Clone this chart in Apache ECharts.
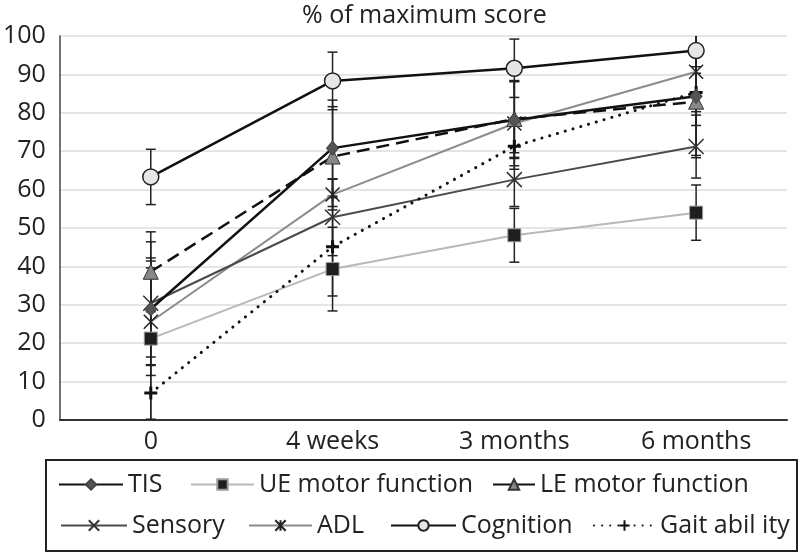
<!DOCTYPE html>
<html>
<head>
<meta charset="utf-8">
<script src="https://cdn.jsdelivr.net/npm/echarts@6/dist/echarts.min.js"></script>
<style>html,body{margin:0;padding:0;background:#fff}#c{width:800px;height:553px}</style>
</head>
<body>
<div id="c"></div>
<script>
const categories = ['0', '4 weeks', '3 months', '6 months'];
const yTicks = [0, 10, 20, 30, 40, 50, 60, 70, 80, 90, 100];

const tis = [28.9, 70.8, 78.1, 84.3];
const tisSd = [12.5, 12.5, 10, 16];
const ue = [21.2, 39.3, 48.1, 54.0];
const ueSd = [21, 10.9, 7.0, 7.2];
const le = [38.6, 68.6, 78.4, 82.9];
const leSd = [10.4, 13, 10, 14];
const sensory = [30.4, 52.8, 62.6, 71.2];
const sensorySd = [16, 10, 7, 8.2];
const adl = [25.6, 58.7, 77.2, 90.7];
const adlSd = [14, 4, 11, 14];
const cognition = [63.3, 88.3, 91.6, 96.2];
const cognitionSd = [7.2, 7.5, 7.6, 4.2];
const gait = [7.0, 45.1, 71.3, 85.3];
const gaitSd = [7.2, 12.8, 6, 5];

const FONT = 'Open Sans';
const FS = 25;

const allSeries = [
  [tis, tisSd], [ue, ueSd], [le, leSd], [sensory, sensorySd],
  [adl, adlSd], [cognition, cognitionSd], [gait, gaitSd]
];
const errData = [];
allSeries.forEach(([m, s]) => {
  m.forEach((v, i) => errData.push([i, v - s[i], v + s[i]]));
});

const chart = echarts.init(document.getElementById('c'), null, {renderer: 'canvas'});

function legendItem(name, left, top, w, solid) {
  const l = {
    data: [name], left: left, top: top, padding: 0,
    itemWidth: w, itemHeight: 13, orient: 'horizontal',
    selectedMode: false,
    textStyle: {fontFamily: FONT, fontSize: FS, color: '#222'}
  };
  if (solid) l.lineStyle = {type: 'solid'};
  return l;
}

const option = {
  animation: false,
  backgroundColor: '#fff',
  title: {
    text: '% of maximum score', left: 302, top: 3, padding: 0,
    textStyle: {fontFamily: FONT, fontSize: FS, fontWeight: 'normal', color: '#222'}
  },
  grid: {left: 59, right: 13, top: 36, bottom: 133, containLabel: false},
  xAxis: {
    type: 'category', data: categories, boundaryGap: true,
    axisTick: {show: false},
    axisLine: {lineStyle: {color: '#333', width: 2}},
    axisLabel: {fontFamily: FONT, fontSize: FS, color: '#222', margin: 9},
    splitLine: {show: false}
  },
  yAxis: {
    type: 'value', min: yTicks[0], max: yTicks[yTicks.length - 1], interval: 10,
    axisLine: {show: true, lineStyle: {color: '#444', width: 1.5}},
    axisTick: {show: false},
    axisLabel: {fontFamily: FONT, fontSize: FS, color: '#222', margin: 14},
    splitLine: {lineStyle: {color: '#dcdcdc', width: 1.5}}
  },
  legend: [
    legendItem('TIS', 58, 472, 64),
    legendItem('UE motor function', 190, 472, 63),
    legendItem('LE motor function', 492, 472, 42, true),
    legendItem('Sensory', 60, 513, 66),
    legendItem('ADL', 248, 513, 63),
    legendItem('Cognition', 390, 513, 65),
    legendItem('Gait abil ity', 593, 513, 61)
  ],
  graphic: [{
    type: 'rect', shape: {x: 46, y: 460, width: 751, height: 91},
    style: {fill: 'none', stroke: '#222', lineWidth: 2}, z: 100
  }],
  series: [
    {
      type: 'custom', name: 'err', data: errData, z: 1, silent: true,
      encode: {x: 0, y: [1, 2]},
      renderItem: function (params, api) {
        const x = api.value(0), lo = api.value(1), hi = api.value(2);
        const t = api.coord([x, Math.min(hi, 100)]);
        const b = api.coord([x, Math.max(lo, 0)]);
        const st = {stroke: '#222', lineWidth: 1.5};
        const ch = [{type: 'line', shape: {x1: t[0], y1: t[1], x2: b[0], y2: b[1]}, style: st}];
        if (hi <= 100) ch.push({type: 'line', shape: {x1: t[0] - 5, y1: t[1], x2: t[0] + 5, y2: t[1]}, style: st});
        if (lo >= 0) ch.push({type: 'line', shape: {x1: b[0] - 5, y1: b[1], x2: b[0] + 5, y2: b[1]}, style: st});
        return {type: 'group', children: ch};
      }
    },
    {
      name: 'UE motor function', type: 'line', data: ue, z: 3,
      lineStyle: {color: '#b8b8b8', width: 2},
      symbol: 'rect', symbolSize: 13,
      itemStyle: {color: '#1e1e1e', borderColor: '#9a9a9a', borderWidth: 1}
    },
    {
      name: 'ADL', type: 'line', data: adl, z: 3,
      lineStyle: {color: '#8c8c8c', width: 2},
      symbol: 'path://M0,0L10,10M10,0L0,10M5,0L5,10', symbolSize: 14,
      itemStyle: {color: '#222', borderColor: '#222', borderWidth: 1.5}
    },
    {
      name: 'Sensory', type: 'line', data: sensory, z: 3,
      lineStyle: {color: '#4a4a4a', width: 2},
      symbol: 'path://M0,0L10,10M10,0L0,10', symbolSize: 15,
      itemStyle: {color: '#333', borderColor: '#333', borderWidth: 1.5}
    },
    {
      name: 'Gait abil ity', type: 'line', data: gait, z: 3,
      lineStyle: {color: '#111', width: 3, type: [0.1, 8], cap: 'round'},
      symbol: 'path://M5,0L5,10M0,5L10,5', symbolSize: 13,
      itemStyle: {color: '#111', borderColor: '#111', borderWidth: 3}
    },
    {
      name: 'LE motor function', type: 'line', data: le, z: 4,
      lineStyle: {color: '#111', width: 2.5, type: [13, 7]},
      symbol: 'triangle', symbolSize: 15,
      itemStyle: {color: '#888', borderColor: '#333', borderWidth: 1}
    },
    {
      name: 'TIS', type: 'line', data: tis, z: 4,
      lineStyle: {color: '#111', width: 2.5},
      symbol: 'diamond', symbolSize: [12, 14],
      itemStyle: {color: '#555', borderColor: '#444', borderWidth: 1}
    },
    {
      name: 'Cognition', type: 'line', data: cognition, z: 5,
      lineStyle: {color: '#111', width: 2.5},
      symbol: 'circle', symbolSize: 16,
      itemStyle: {color: '#e6e6e6', borderColor: '#222', borderWidth: 1.5}
    }
  ]
};
chart.setOption(option);
</script>
</body>
</html>
